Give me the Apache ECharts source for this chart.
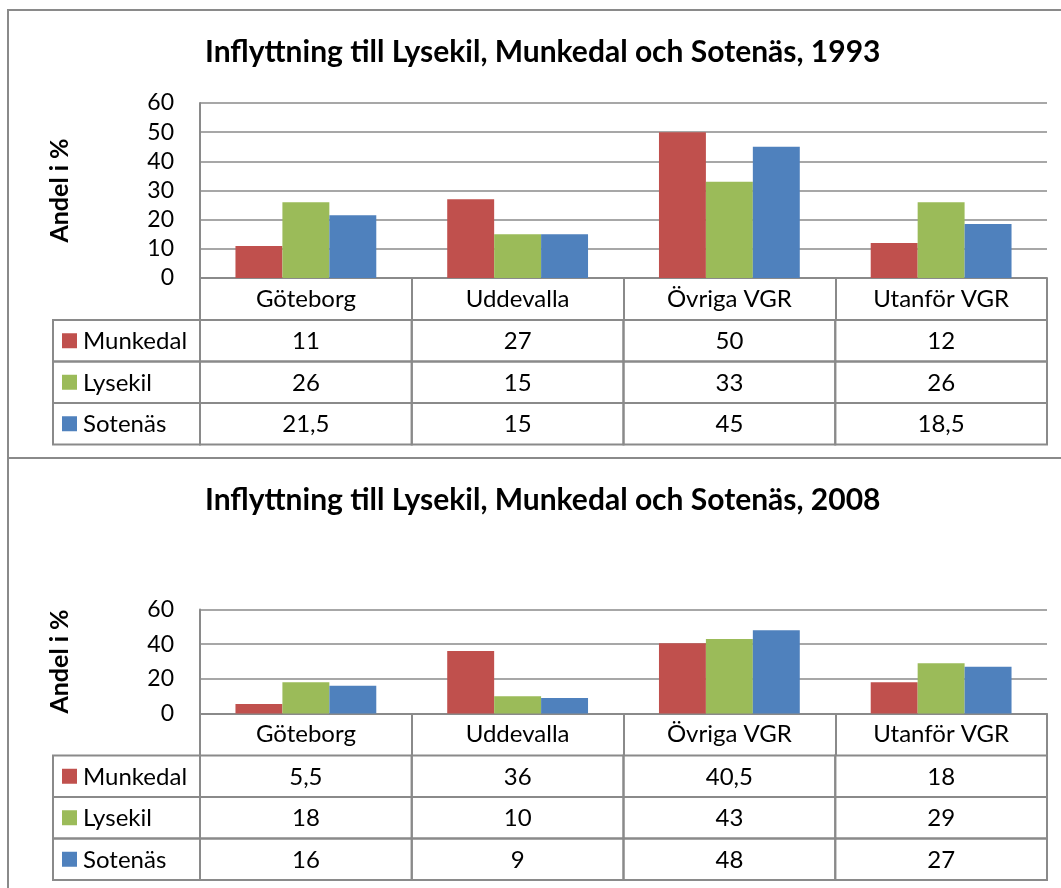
<!DOCTYPE html>
<html>
<head>
<meta charset="utf-8">
<script src="https://cdn.jsdelivr.net/npm/echarts@6/dist/echarts.min.js"></script>
<style>
  html, body { margin: 0; padding: 0; background: #fff; }
  #chart { width: 1061px; height: 888px; }
</style>
</head>
<body>
<div id="chart"></div>
<script type="text/javascript">
// data
var categories = ['Göteborg', 'Uddevalla', 'Övriga VGR', 'Utanför VGR'];
var seriesNames = ['Munkedal', 'Lysekil', 'Sotenäs'];
var colors = ['#C0504D', '#9BBB59', '#4F81BD'];

var munkedal1993 = [11, 27, 50, 12];
var lysekil1993 = [26, 15, 33, 26];
var sotenas1993 = [21.5, 15, 45, 18.5];

var munkedal2008 = [5.5, 36, 40.5, 18];
var lysekil2008 = [18, 10, 43, 29];
var sotenas2008 = [16, 9, 48, 27];

var titles = [
    'Inflyttning till Lysekil, Munkedal och Sotenäs, 1993',
    'Inflyttning till Lysekil, Munkedal och Sotenäs, 2008'
];
var yTicks1 = [0, 60, 10];
var yTicks2 = [0, 60, 20];

var FONT = 'Lato';
var lineCol = '#8a8a8a';

// layout of the two panels
var plotLeft = 200, plotW = 847;
var panels = [
    { top: 103, height: 175, data: [munkedal1993, lysekil1993, sotenas1993], ticks: yTicks1, titleTop: 37 },
    { top: 609.5, height: 104, data: [munkedal2008, lysekil2008, sotenas2008], ticks: yTicks2, titleTop: 485 }
];
var headerH = 42, rowH = 41.5, tableLeft = 53;

function fmt(v) {
    return String(v).replace('.', ',');
}

function tableGraphics(p) {
    var els = [];
    var colW = plotW / categories.length;
    var y0 = p.top + p.height + headerH;
    for (var r = 0; r < seriesNames.length; r++) {
        var y = y0 + r * rowH;
        els.push({
            type: 'rect', silent: true,
            shape: { x: tableLeft, y: y, width: plotLeft - tableLeft, height: rowH },
            style: { fill: 'none', stroke: lineCol, lineWidth: 2 }
        });
        els.push({
            type: 'rect', silent: true,
            shape: { x: 62, y: y + rowH / 2 - 7.5, width: 15, height: 15 },
            style: { fill: colors[r] }
        });
        els.push({
            type: 'text', silent: true,
            x: 83, y: y + rowH / 2 + 1,
            style: { text: seriesNames[r], font: '24px ' + FONT, fill: '#000', textVerticalAlign: 'middle' }
        });
        for (var c = 0; c < categories.length; c++) {
            var x = plotLeft + c * colW;
            els.push({
                type: 'rect', silent: true,
                shape: { x: x, y: y, width: colW, height: rowH },
                style: { fill: 'none', stroke: lineCol, lineWidth: 2 }
            });
            els.push({
                type: 'text', silent: true,
                x: x + colW / 2, y: y + rowH / 2 + 1,
                style: { text: fmt(p.data[r][c]), font: '24px ' + FONT, fill: '#000', textAlign: 'center', textVerticalAlign: 'middle' }
            });
        }
    }
    return els;
}

var myChart = echarts.init(document.getElementById('chart'), null, { renderer: 'canvas' });

var grids = [], xAxes = [], yAxes = [], series = [], titleOpts = [], graphics = [];

// panel frames
graphics.push({
    type: 'rect', silent: true, z: -1,
    shape: { x: 8, y: 10, width: 1070, height: 448 },
    style: { fill: 'none', stroke: lineCol, lineWidth: 2 }
});
graphics.push({
    type: 'rect', silent: true, z: -1,
    shape: { x: 8, y: 458, width: 1070, height: 450 },
    style: { fill: 'none', stroke: lineCol, lineWidth: 2 }
});

panels.forEach(function (p, i) {
    titleOpts.push({
        text: titles[i],
        left: 205,
        top: p.titleTop,
        padding: 0,
        textStyle: { fontFamily: FONT, fontWeight: 'bold', fontSize: 30, color: '#000' }
    });
    grids.push({ left: plotLeft, top: p.top, width: plotW, height: p.height, containLabel: false });
    xAxes.push({
        type: 'category',
        gridIndex: i,
        data: categories,
        axisLine: { show: true, lineStyle: { color: lineCol, width: 2 } },
        axisTick: { show: true, length: headerH, interval: 0, lineStyle: { color: lineCol, width: 2 } },
        axisLabel: { interval: 0, margin: 9, fontFamily: FONT, fontSize: 24, color: '#000' }
    });
    yAxes.push({
        type: 'value',
        gridIndex: i,
        min: p.ticks[0],
        max: p.ticks[1],
        interval: p.ticks[2],
        name: 'Andel i %',
        nameLocation: 'middle',
        nameRotate: 90,
        nameGap: 128,
        nameTextStyle: { fontFamily: FONT, fontWeight: 'bold', fontSize: 25, color: '#000' },
        axisLine: { show: true, lineStyle: { color: lineCol, width: 2 } },
        axisTick: { show: false },
        axisLabel: { margin: 26, fontFamily: FONT, fontSize: 23, color: '#000' },
        splitLine: { show: true, lineStyle: { color: lineCol, width: 1.5 } }
    });
    for (var s = 0; s < seriesNames.length; s++) {
        series.push({
            name: seriesNames[s],
            type: 'bar',
            xAxisIndex: i,
            yAxisIndex: i,
            data: p.data[s],
            barGap: '0%',
            barCategoryGap: '33.5%',
            itemStyle: { color: colors[s] },
            silent: true
        });
    }
    graphics = graphics.concat(tableGraphics(p));
});

var option = {
    animation: false,
    backgroundColor: '#fff',
    title: titleOpts,
    grid: grids,
    xAxis: xAxes,
    yAxis: yAxes,
    series: series,
    graphic: graphics
};
myChart.setOption(option);
</script>
</body>
</html>
